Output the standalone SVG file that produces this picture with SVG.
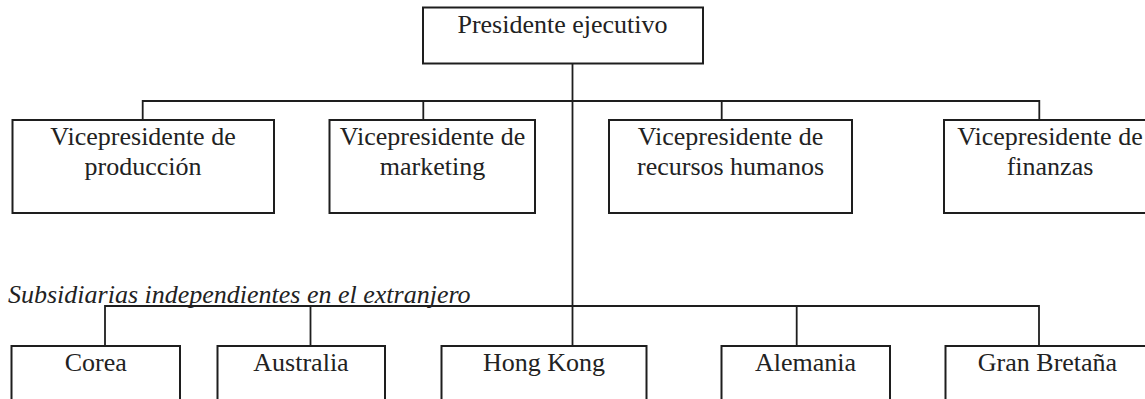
<svg xmlns="http://www.w3.org/2000/svg" width="1145" height="399" viewBox="0 0 1145 399">
<style>
.box{fill:#fff;stroke:#1e1e1e;stroke-width:2}
.ln{fill:none;stroke:#1e1e1e;stroke-width:1.8}
text{font-family:"Liberation Serif","Times New Roman",serif;font-size:26px;fill:#222;text-anchor:middle}
.lbl{text-anchor:start;font-style:italic}
</style>
<rect width="1145" height="399" fill="#fff"/>
<g id="connectors">
<path class="ln" d="M572.5 63.5 V346"/>
<path class="ln" d="M142.7 120 V101 H1039.3 V120"/>
<path class="ln" d="M423.3 101 V120 M721.7 101 V120"/>
<path class="ln" d="M105 346 V306 H1039 V346"/>
<path class="ln" d="M310.5 306 V346 M796.7 306 V346"/>
</g>
<g id="presidente"><rect class="box" x="423" y="7.5" width="280" height="56"/><text x="562.5" y="33">Presidente ejecutivo</text></g>
<g id="vp-produccion"><rect class="box" x="12.5" y="120" width="261.5" height="93"/><text x="143" y="145">Vicepresidente de</text><text x="143" y="175">producción</text></g>
<g id="vp-marketing"><rect class="box" x="329.5" y="120" width="205.5" height="93"/><text x="432.5" y="145">Vicepresidente de</text><text x="432.5" y="175">marketing</text></g>
<g id="vp-rrhh"><rect class="box" x="609" y="120" width="243" height="93"/><text x="730.5" y="145">Vicepresidente de</text><text x="730.5" y="175">recursos humanos</text></g>
<g id="vp-finanzas"><rect class="box" x="944" y="120" width="216" height="93"/><text x="1050" y="145">Vicepresidente de</text><text x="1050" y="175">finanzas</text></g>
<g id="subsidiarias-label"><text class="lbl" x="8" y="303">Subsidiarias independientes en el extranjero</text></g>
<g id="corea"><rect class="box" x="11.5" y="346" width="168.5" height="70"/><text x="95.8" y="371">Corea</text></g>
<g id="australia"><rect class="box" x="217.5" y="346" width="167.5" height="70"/><text x="301" y="371">Australia</text></g>
<g id="hongkong"><rect class="box" x="441.5" y="346" width="205" height="70"/><text x="544" y="371">Hong Kong</text></g>
<g id="alemania"><rect class="box" x="721.5" y="346" width="168.5" height="70"/><text x="805.5" y="371">Alemania</text></g>
<g id="granbretana"><rect class="box" x="945.5" y="346" width="215" height="70"/><text x="1047.5" y="371">Gran Bretaña</text></g>
</svg>
